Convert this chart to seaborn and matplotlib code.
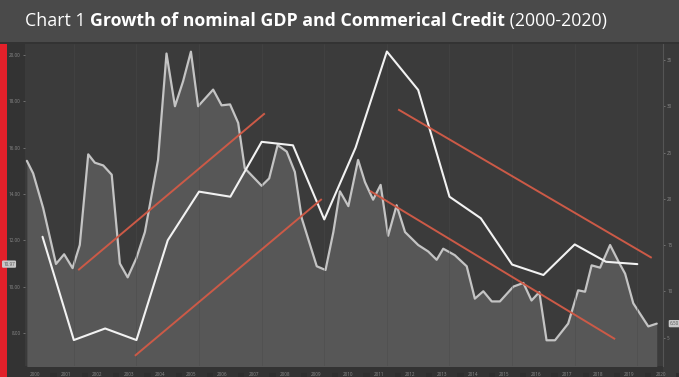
import numpy as np
import pandas as pd
import seaborn as sns
import matplotlib.pyplot as plt
from matplotlib.patches import Rectangle

# nominal GDP growth, annual points plotted mid-year (left axis)
gdp_years = [2000.5, 2001.5, 2002.5, 2003.5, 2004.5, 2005.5, 2006.5, 2007.5, 2008.5, 2009.5,
             2010.5, 2011.5, 2012.5, 2013.5, 2014.5, 2015.5, 2016.5, 2017.5, 2018.5, 2019.5]
gdp_growth = [12.15, 7.69, 8.19, 7.69, 12.0, 14.1, 13.88, 16.25, 16.1, 12.9,
              16.0, 20.15, 18.49, 13.88, 12.95, 10.95, 10.5, 11.82, 11.07, 10.97]

# commercial credit growth, quarterly-ish (right axis, shaded)
credit_years = [2000.0, 2000.2, 2000.52, 2000.93, 2001.19, 2001.46, 2001.69, 2001.96, 2002.17, 2002.44,
                2002.71, 2002.97, 2003.22, 2003.5, 2003.77, 2004.19, 2004.46, 2004.73, 2004.99, 2005.24,
                2005.47, 2005.95, 2006.22, 2006.49, 2006.75, 2006.96, 2007.5, 2007.74, 2008.01, 2008.3,
                2008.56, 2008.78, 2009.26, 2009.54, 2009.79, 2010.0, 2010.27, 2010.58, 2010.8, 2011.06,
                2011.3, 2011.54, 2011.81, 2012.08, 2012.5, 2012.82, 2013.09, 2013.3, 2013.67, 2014.05,
                2014.31, 2014.58, 2014.85, 2015.11, 2015.54, 2015.86, 2016.12, 2016.37, 2016.6, 2016.87,
                2017.29, 2017.61, 2017.83, 2018.04, 2018.31, 2018.63, 2018.9, 2019.11, 2019.37, 2019.85,
                2020.12]
credit_growth = [24.1, 22.75, 19.0, 12.95, 14.0, 12.5, 15.0, 24.8, 23.9, 23.6,
                 22.6, 13.0, 11.5, 13.6, 16.4, 24.2, 35.7, 30.0, 32.7, 35.9,
                 30.0, 31.8, 30.1, 30.2, 28.2, 23.3, 21.4, 22.2, 25.8, 25.1,
                 22.9, 17.9, 12.7, 12.3, 16.4, 20.8, 19.2, 24.2, 21.8, 19.9,
                 21.5, 16.0, 19.3, 16.4, 15.0, 14.3, 13.4, 14.6, 13.9, 12.7,
                 9.2, 10.0, 8.9, 8.9, 10.5, 10.9, 9.0, 9.9, 4.7, 4.7,
                 6.5, 10.1, 9.95, 12.8, 12.55, 15.0, 13.2, 11.9, 8.7, 6.2,
                 6.5]

# hand drawn trend channels (year, left-axis value)
trend_x = [[2001.64, 2007.6], [2003.45, 2009.42], [2010.96, 2018.79], [2011.86, 2019.96]]
trend_y = [[10.71, 17.48], [7.01, 13.78], [14.13, 7.73], [17.65, 11.24]]

year_labels = list(range(2000, 2021))
left_ticks = [8, 10, 12, 14, 16, 18, 20]
right_ticks = [5, 10, 15, 20, 25, 30, 35]

gdp = pd.DataFrame({'year': gdp_years, 'value': gdp_growth})
credit = pd.DataFrame({'year': credit_years, 'value': credit_growth})

sns.set_style('dark')
plt.rcParams['font.family'] = ['Open Sans', 'DejaVu Sans']

fig = plt.figure(figsize=(6.79, 3.77), dpi=100)
fig.patch.set_facecolor('#333333')

W, H = 679, 377
def fx(px):
    return px / W
def fy(py):
    return 1 - py / H

# title bar, red strip, right strip
fig.patches.append(Rectangle((0, fy(42)), 1, 42 / H, transform=fig.transFigure,
                             facecolor='#4a4a4a', edgecolor='none', zorder=0))
fig.patches.append(Rectangle((0, 0), fx(7), fy(44), transform=fig.transFigure,
                             facecolor='#e3202a', edgecolor='none', zorder=1))
fig.patches.append(Rectangle((fx(663), 0), fx(16), fy(44), transform=fig.transFigure,
                             facecolor='#3a3a3a', edgecolor='none', zorder=0))

ax = fig.add_axes([fx(25), fy(366), fx(663) - fx(25), fy(44) - fy(366)])
ax2 = ax.twinx()

# shaded credit series on right axis
ax2.fill_between(credit['year'], credit['value'], 0, color='#575757', lw=0)
sns.lineplot(data=credit, x='year', y='value', ax=ax2, color='#c4c4c4', lw=1.6, sort=False)
ax2.set_ylim(1.92, 36.73)

# left axis drawn on top, background from the right axis
ax.patch.set_visible(False)
ax2.patch.set_visible(True)
ax2.patch.set_facecolor('#3b3b3b')
ax2.set_zorder(1)
ax.set_zorder(3)

for xv in np.arange(2001.5, 2020, 2):
    ax.axvline(xv, color='#4a4a4a', lw=0.6, alpha=0.5, zorder=0)

sns.lineplot(data=gdp, x='year', y='value', ax=ax, color='#f2f2f2', lw=1.5, sort=False)
for tx, ty in zip(trend_x, trend_y):
    ax.plot(tx, ty, color='#cc5a47', lw=1.4, solid_capstyle='butt')

ax.set_xlim(1999.94, 2020.32)
ax.set_ylim(6.57, 20.475)
ax2.set_xlim(1999.94, 2020.32)

ax.set_yticks(left_ticks)
ax.set_yticklabels(['%.2f' % v for v in left_ticks])
ax2.set_yticks(right_ticks)
ax2.set_yticklabels(['%d' % v for v in right_ticks])
ax.tick_params(axis='y', colors='#8a8a8a', labelsize=3.3, length=1.5, width=0.5, pad=1.5, left=True)
ax2.tick_params(axis='y', colors='#8a8a8a', labelsize=3.3, length=1.5, width=0.5, pad=1.5, right=True)
ax.set_xticks([])
ax2.set_xticks([])
for a in (ax, ax2):
    a.set_xlabel('')
    a.set_ylabel('')
    a.grid(False)
    for s in a.spines.values():
        s.set_visible(False)
ax2.spines['right'].set_visible(True)
ax2.spines['right'].set_color('#555555')
ax2.spines['right'].set_linewidth(0.8)

# year labels along the bottom strip
for yr in year_labels:
    ax.text(yr + 0.08, 6.2, str(yr), color='#8a8a8a', fontsize=3.3, ha='left', va='center',
            clip_on=False)
    ax.plot([yr + 0.75, yr + 0.95], [6.2, 6.2], color='#2e2e2e', lw=3, clip_on=False,
            solid_capstyle='butt')

# last-value tags
ax.text(-0.025, gdp_growth[-1], '%.2f' % gdp_growth[-1], transform=ax.get_yaxis_transform(),
        fontsize=3.3, color='#555555', ha='center', va='center',
        bbox=dict(boxstyle='round,pad=0.25', fc='#c8c8c8', ec='none'))
ax2.text(1.018, credit_growth[-1], '%.2f' % credit_growth[-1], transform=ax2.get_yaxis_transform(),
         fontsize=3.3, color='#555555', ha='center', va='center',
         bbox=dict(boxstyle='round,pad=0.25', fc='#c8c8c8', ec='none'))

# title with mixed weights
renderer = fig.canvas.get_renderer()
parts = [('Chart 1 ', 'normal'), ('Growth of nominal GDP and Commerical Credit', 'bold'),
         (' (2000-2020)', 'normal')]
x0 = fx(25)
for txt, wt in parts:
    t = fig.text(x0, fy(21), txt, color='white', fontsize=12.8, fontweight=wt,
                 ha='left', va='center')
    bb = t.get_window_extent(renderer)
    x0 += bb.width / W

fig.savefig('out.png', dpi=100, facecolor=fig.get_facecolor())
